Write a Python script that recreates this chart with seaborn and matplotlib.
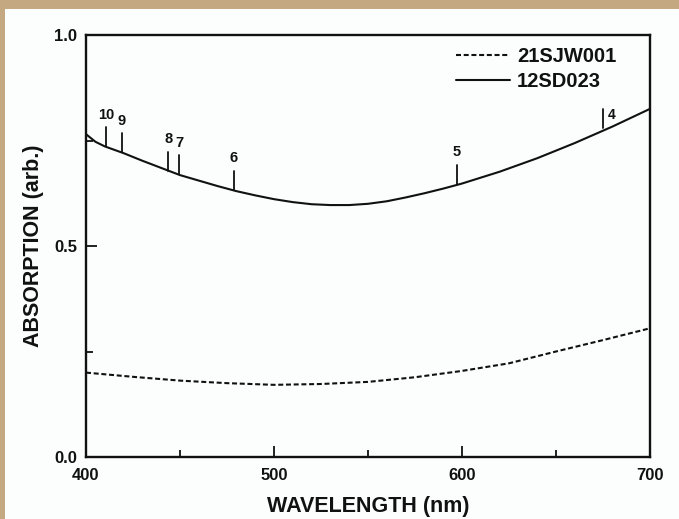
import numpy as np
import pandas as pd
import matplotlib
matplotlib.use("Agg")
import matplotlib.pyplot as plt
from matplotlib.patches import Rectangle
from matplotlib.ticker import MultipleLocator, FormatStrFormatter
import seaborn as sns

# ---- data ----
wl_solid = [400, 405, 410, 420, 430, 440, 450, 460, 470, 480, 490, 500, 510, 520,
            530, 540, 550, 560, 570, 580, 590, 600, 620, 640, 660, 680, 700]
abs_12SD023 = [0.765, 0.747, 0.736, 0.720, 0.702, 0.685, 0.668, 0.655, 0.642, 0.630,
               0.620, 0.611, 0.604, 0.599, 0.597, 0.597, 0.600, 0.606, 0.615, 0.625,
               0.636, 0.648, 0.676, 0.708, 0.744, 0.783, 0.825]
wl_dash = [400, 425, 450, 475, 500, 525, 550, 575, 600, 625, 650, 675, 700]
abs_21SJW001 = [0.200, 0.190, 0.181, 0.175, 0.171, 0.173, 0.178, 0.189, 0.204,
                0.222, 0.250, 0.277, 0.305]
mark_labels = ["10", "9", "8", "7", "6", "5", "4"]
mark_wl = [410.6, 419.0, 443.8, 449.5, 478.7, 597.2, 674.8]
mark_base = [0.736, 0.722, 0.678, 0.670, 0.633, 0.647, 0.780]
mark_len = 0.045

df = pd.concat([
    pd.DataFrame({"wl": wl_dash, "abs": abs_21SJW001, "sample": "21SJW001"}),
    pd.DataFrame({"wl": wl_solid, "abs": abs_12SD023, "sample": "12SD023"}),
])

sns.set_theme(style="white")
plt.rcParams["font.family"] = ["Liberation Sans", "DejaVu Sans"]
plt.rcParams["font.weight"] = "bold"

INK = "#111111"
fig = plt.figure(figsize=(6.79, 5.19), dpi=100, facecolor="#C4A882")
bg = Rectangle((5 / 679, 0), 1, 1 - 9 / 519, transform=fig.transFigure,
               facecolor="#FCFDFD", edgecolor="none", zorder=-10)
fig.add_artist(bg)
ax = fig.add_axes([86 / 679, 1 - 457 / 519, (650 - 86) / 679, (457 - 35) / 519])
ax.set_zorder(5)
ax.set_facecolor("#FCFDFD")

sns.lineplot(data=df, x="wl", y="abs", style="sample",
             dashes={"21SJW001": (2.4, 1.3), "12SD023": ""},
             color=INK, linewidth=1.5, ax=ax, legend=True, sort=False)

for lab, w, b in zip(mark_labels, mark_wl, mark_base):
    ax.plot([w, w], [b, b + mark_len], color=INK, lw=1.3)
    if lab == "4":
        ax.text(w + 2.7, b + mark_len + 0.003, lab, ha="left", va="top", fontsize=10,
                fontweight="bold", color=INK)
    else:
        ax.text(w, b + mark_len + 0.013, lab, ha="center", va="bottom", fontsize=10.5,
                fontweight="bold", color=INK)

ax.set_xlim(400, 700)
ax.set_ylim(0, 1.0)
ax.set_xticks([400, 500, 600, 700])
ax.set_yticks([0.0, 0.5, 1.0])
ax.xaxis.set_minor_locator(MultipleLocator(50))
ax.yaxis.set_minor_locator(MultipleLocator(0.25))
ax.tick_params(which="both", direction="in", color=INK, width=1.3,
               labelsize=12, labelcolor=INK)
ax.tick_params(which="major", length=8)
ax.tick_params(which="minor", length=5)
ax.tick_params(axis="y", which="both", left=True, pad=6.5)
ax.tick_params(axis="x", which="both", bottom=True, pad=8)
ax.yaxis.set_major_formatter(FormatStrFormatter("%.1f"))
for s in ax.spines.values():
    s.set_color(INK)
    s.set_linewidth(1.7)

ax.set_xlabel("WAVELENGTH (nm)", fontsize=15.5, fontweight="bold", color=INK,
              labelpad=9)
ax.set_ylabel("ABSORPTION (arb.)", fontsize=15.5, fontweight="bold", color=INK,
              labelpad=7)

leg = ax.legend(loc="upper right", bbox_to_anchor=((616 - 86) / 564, (457 - 47) / 422),
                frameon=False, fontsize=14.5, handlelength=2.65,
                borderaxespad=0, borderpad=0, labelspacing=0.28, handletextpad=0.35)
for t in leg.get_texts():
    t.set_fontweight("bold")
    t.set_color(INK)

fig.savefig("out.png", dpi=100, facecolor=fig.get_facecolor())
